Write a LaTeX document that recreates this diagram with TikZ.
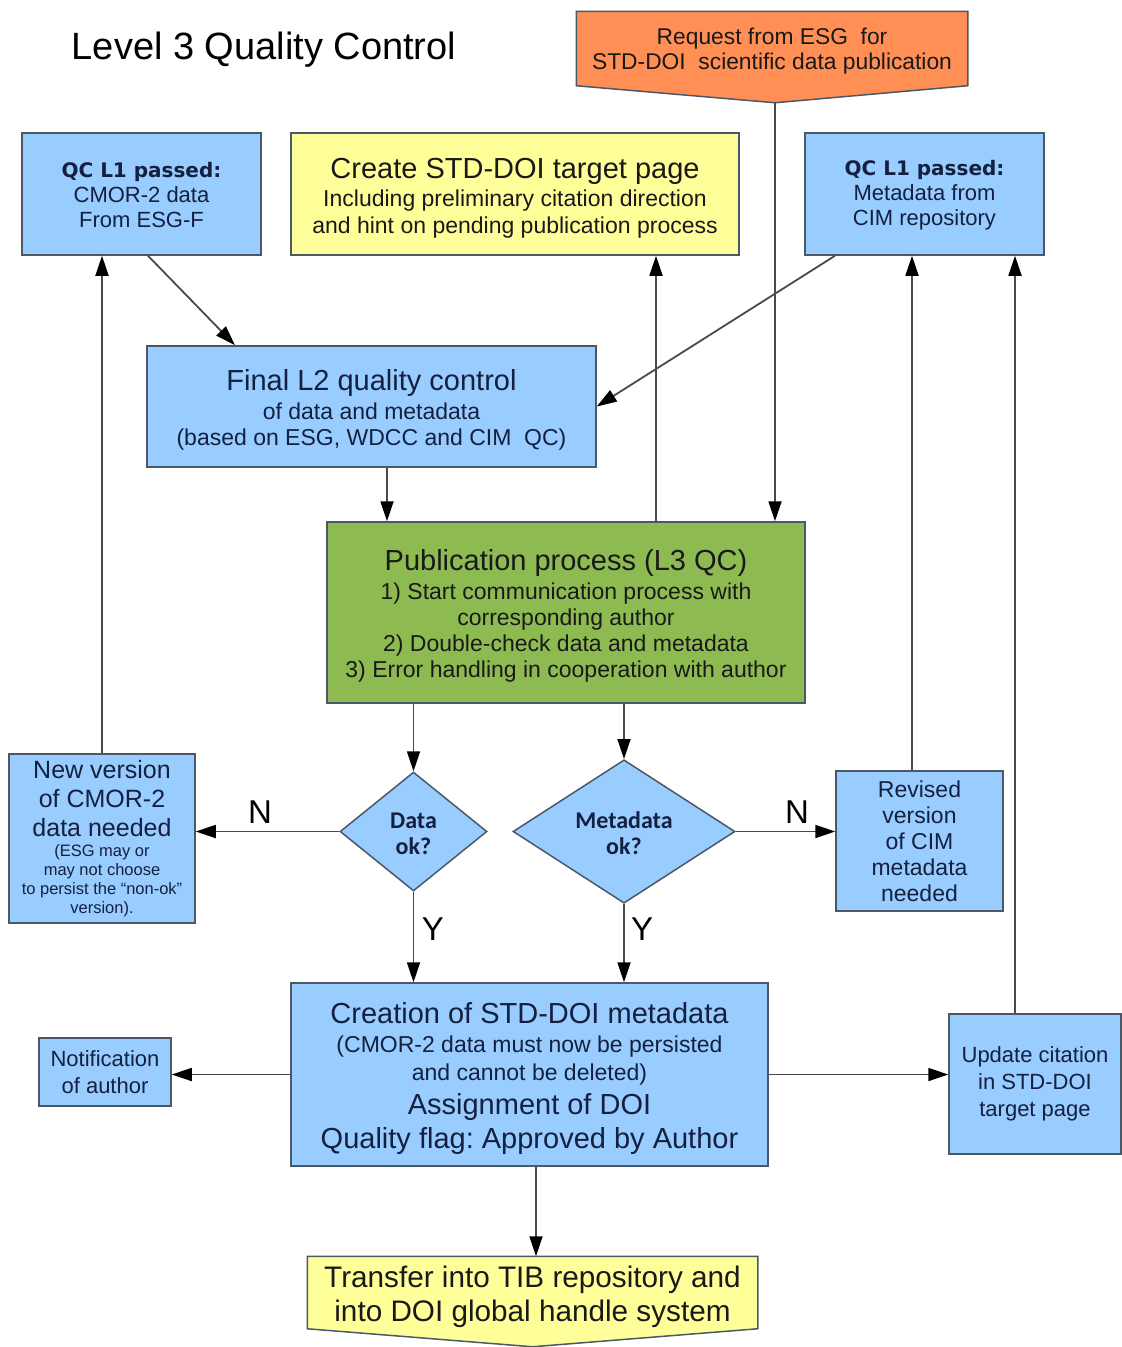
\documentclass[tikz,border=0pt]{standalone}
\usepackage{fontspec}
\setmainfont{Liberation Sans}
\newfontfamily\qcfont{DejaVu Sans}
\newfontfamily\diafont{Carlito}
\usetikzlibrary{arrows.meta,backgrounds,shapes.geometric}
\definecolor{boxblue}{HTML}{99CCFF}
\definecolor{boxline}{HTML}{4A5868}
\definecolor{boxtext}{HTML}{14203F}
\definecolor{boxyellow}{HTML}{FFFF99}
\definecolor{boxgreen}{HTML}{8DBB52}
\definecolor{boxorange}{HTML}{FF8F55}
\definecolor{linegray}{HTML}{4A4A4A}
\newcommand{\hdfont}{\fontsize{29}{33}\selectfont}
\newcommand{\headstrut}{\rule{0pt}{28pt}}
\newcommand{\smfont}{\fontsize{16.5}{19}\selectfont}
\tikzstyle{box}=[rectangle, fill=boxblue, draw=boxline, line width=1.5pt, inner sep=0pt, align=center, text=boxtext, font=\fontsize{23}{26}\selectfont, anchor=center]
\tikzstyle{yellowbox}=[box, fill=boxyellow, text=black!90]
\tikzstyle{greenbox}=[box, fill=boxgreen, text=black!90]
\tikzstyle{pentext}=[box, draw=none, fill=none, text=black!90]
\tikzstyle{pent}=[line width=1.5pt, draw=boxline]
\tikzstyle{decision}=[diamond, fill=boxblue, draw=boxline, line width=1.5pt, inner sep=0pt, align=center, text=boxtext, font=\diafont\bfseries\fontsize{24}{26}\selectfont]
\tikzstyle{conn}=[draw=linegray, line width=1.8pt, -{Triangle[length=20pt,width=13pt,color=black]}]
\tikzstyle{annot}=[font=\fontsize{33}{33}\selectfont]
\begin{document}
\frenchspacing
\begin{tikzpicture}[x=1pt, y=-1pt]
	\useasboundingbox (0,0) rectangle (1122,1347);

	\node[font=\fontsize{38}{40}\selectfont] (title) at (264,50) {Level 3 Quality Control};

	% request from ESG (pentagon)
	\node[pentext, font=\fontsize{22.8}{25}\selectfont, minimum width=390pt, minimum height=73pt] (req) at (772,48.5) {\rule{0pt}{21pt}Request from ESG\ \ for\\STD-DOI\ \ scientific data publication};
	\coordinate (reqtip) at ([xshift=3pt,yshift=-17pt]req.south);

	\node[box, font=\fontsize{22}{25}\selectfont, minimum width=239pt, minimum height=122pt] (qcl) at (141.5,194) {{\qcfont\bfseries\fontsize{20}{25}\selectfont\rule{0pt}{17pt}QC L1 passed:}\\CMOR-2 data\\From ESG-F};
	\node[yellowbox, font=\fontsize{23}{27}\selectfont, minimum width=448pt, minimum height=122pt] (yel) at (515,194) {\hdfont\headstrut Create STD-DOI target page\\[1pt]Including preliminary citation direction\\and hint on pending publication process};
	\node[box, font=\fontsize{22}{25}\selectfont, minimum width=239pt, minimum height=122pt] (qcr) at (924.5,194) {{\qcfont\bfseries\fontsize{20}{25}\selectfont\rule{0pt}{17pt}QC L1 passed:}\\Metadata from\\CIM repository};

	\node[box, minimum width=449pt, minimum height=121pt] (fin) at (371.5,406.5) {\hdfont\headstrut Final L2 quality control\\[3pt]of data and metadata\\(based on ESG, WDCC and CIM\ \ QC)};

	\node[greenbox, minimum width=478pt, minimum height=181pt] (pub) at (566,612.5) {\hdfont\headstrut Publication process (L3 QC)\\[3pt]1) Start communication process with\\corresponding author\\2) Double-check data and metadata\\3) Error handling in cooperation with author};

	\node[decision, minimum width=147pt, minimum height=119pt] (dat) at (413.5,831.5) {\rule{0pt}{20pt}Data\\ok?};
	\node[decision, minimum width=222pt, minimum height=133pt] (meta) at (624,831.5) {\rule{0pt}{20pt}Metadata\\ok?};

	\node[box, font=\fontsize{25}{29}\selectfont, minimum width=186pt, minimum height=169pt] (nv) at (102,838.5) {New version\\of CMOR-2\\data needed\\[-9pt]\smfont (ESG may or\\[-10pt]\smfont may not choose\\[-10pt]\smfont to persist the “non-ok”\\[-10pt]\smfont version).};
	\node[box, minimum width=167pt, minimum height=140pt] (rev) at (919.5,841) {Revised\\version\\of CIM\\metadata\\needed};

	\node[box, font=\fontsize{23}{28}\selectfont, minimum width=477pt, minimum height=183pt] (cre) at (529.5,1074.5) {\hdfont\headstrut Creation of STD-DOI metadata\\[1pt](CMOR-2 data must now be persisted\\and cannot be deleted)\\[6pt]\hdfont Assignment of DOI\\[6pt]\hdfont Quality flag: Approved by Author};
	\node[box, font=\fontsize{22}{27}\selectfont, minimum width=132pt, minimum height=68pt] (noti) at (105,1072) {Notification\\of author};
	\node[box, font=\fontsize{22}{27}\selectfont, minimum width=172pt, minimum height=140pt] (upd) at (1035,1084) {Update citation\\in STD-DOI\\target page};

	% transfer (pentagon)
	\node[pentext, font=\fontsize{29.7}{34}\selectfont, minimum width=449pt, minimum height=71pt] (tra) at (532.5,1292.5) {\rule{0pt}{30pt}Transfer into TIB repository and\\into DOI global handle system};
	\coordinate (tratip) at ([yshift=-18pt]tra.south);

	\begin{scope}[on background layer]
		\draw[pent, fill=boxorange] (req.north west) -- (req.north east) -- (req.south east) -- (reqtip) -- (req.south west) -- cycle;
		\draw[pent, fill=boxyellow] (tra.north west) -- (tra.north east) -- (tra.south east) -- (tratip) -- (tra.south west) -- cycle;
	\end{scope}

	% connectors
	\draw[conn] ([xshift=6.5pt]qcl.south) -- ([xshift=-136.5pt]fin.north);
	\draw[conn] ([xshift=-89.5pt]qcr.south) -- (fin.east);
	\draw[conn] (reqtip) -- (reqtip |- pub.north);
	\draw[conn] ([xshift=15.5pt]fin.south) -- ([xshift=-179pt]pub.north);
	\draw[conn] ([xshift=90pt]pub.north) -- ([xshift=141pt]yel.south);
	\draw[conn] ([xshift=-152.5pt]pub.south) -- (dat.north);
	\draw[conn] ([xshift=58pt]pub.south) -- (meta.north);
	\draw[conn] (dat.west) -- (dat.west -| nv.east);
	\draw[conn] (meta.east) -- (meta.east -| rev.west);
	\draw[conn] (dat.south) -- (dat.south |- cre.north);
	\draw[conn] (meta.south) -- (meta.south |- cre.north);
	\draw[conn] (nv.north) -- (nv.north |- qcl.south);
	\draw[conn] ([xshift=-7.5pt]rev.north) -- ([xshift=-12.5pt]qcr.south);
	\draw[conn] ([xshift=-20pt]upd.north) -- ([xshift=90.5pt]qcr.south);
	\draw[conn] (cre.west) -- (cre.west -| noti.east);
	\draw[conn] (cre.east) -- (cre.east -| upd.west);
	\draw[conn] ([xshift=6.5pt]cre.south) -- ([xshift=3.5pt]tra.north);

	\node[annot] (ndat) at (260,812) {N};
	\node[annot] (nmeta) at (797,812) {N};
	\node[annot] (ydat) at (433,929) {Y};
	\node[annot] (ymeta) at (642,929) {Y};
\end{tikzpicture}
\end{document}
